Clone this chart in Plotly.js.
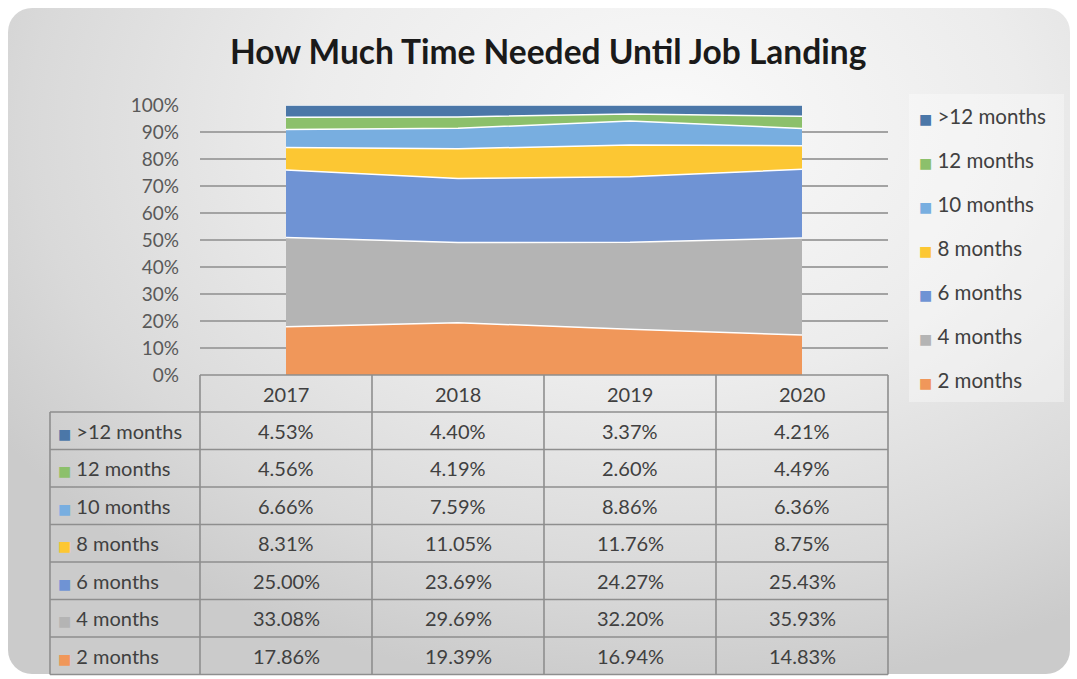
<!DOCTYPE html>
<html>
<head>
<meta charset="utf-8">
<script src="https://cdn.plot.ly/plotly-3.0.1.min.js"></script>
<style>
  html, body { margin:0; padding:0; background:#ffffff; }
  #bg { position:absolute; left:8px; top:8px; width:1062px; height:666px; border-radius:24px;
        background: radial-gradient(ellipse 75% 85% at 62% 18%, #fafafa 0%, #ececec 45%, #d9d9d9 80%, #cbcbcb 100%); }
  #chart { position:absolute; left:0; top:0; width:1077px; height:679px; }
</style>
</head>
<body>
<div id="bg"></div>
<div id="chart"></div>
<script>
// ---- data ----
const years = ['2017', '2018', '2019', '2020'];
const seriesNames = ['2 months', '4 months', '6 months', '8 months', '10 months', '12 months', '>12 months'];
const months2 = [17.86, 19.39, 16.94, 14.83];
const months4 = [33.08, 29.69, 32.20, 35.93];
const months6 = [25.00, 23.69, 24.27, 25.43];
const months8 = [8.31, 11.05, 11.76, 8.75];
const months10 = [6.66, 7.59, 8.86, 6.36];
const months12 = [4.56, 4.19, 2.60, 4.49];
const monthsOver12 = [4.53, 4.40, 3.37, 4.21];
const yTickValues = [0, 10, 20, 30, 40, 50, 60, 70, 80, 90, 100];
const yTickLabels = ['0%', '10%', '20%', '30%', '40%', '50%', '60%', '70%', '80%', '90%', '100%'];
const titleText = 'How Much Time Needed Until Job Landing';

// ---- styling ----
const seriesValues = [months2, months4, months6, months8, months10, months12, monthsOver12];
const colors = ['#f0975a', '#b4b4b4', '#6f93d4', '#fcc733', '#78aee0', '#8cc06b', '#4b77a8'];
const FONT = 'Lato, Carlito, Calibri, "Open Sans", sans-serif';
const TXT = '#404040';
const W = 1077, H = 679;
const M = {l: 200, r: 189, t: 105, b: 304};
const plotH = H - M.t - M.b;
const plotW = W - M.l - M.r;
const py = p => (H - M.b - p) / plotH;       // pixel y -> paper y
const px = p => (p - M.l) / plotW;           // pixel x -> paper x
const esc = s => s.replace(/&/g, '&amp;').replace(/</g, '&lt;').replace(/>/g, '&gt;');
const swatch = c => '<span style="color:' + c + ';font-family:DejaVu Sans;font-size:14px">■</span> ';

const traces = seriesNames.map((name, i) => ({
  type: 'scatter',
  mode: 'lines',
  x: years,
  y: seriesValues[i],
  name: name,
  stackgroup: 'one',
  fillcolor: colors[i],
  line: {color: '#ffffff', width: 1.5},
  hoverinfo: 'x+y+name',
  showlegend: false
}));

const shapes = [];
const annotations = [];
const border = {color: '#8e8e8e', width: 1.6};

// table geometry (pixels)
const headerTop = 375, headerBottom = 412, rowH = 37.5;
const nRows = seriesNames.length;
const tableBottom = headerBottom + nRows * rowH;
const leftColX = 50;

shapes.push({type: 'line', xref: 'paper', yref: 'paper', x0: 0, x1: 1, y0: py(headerTop), y1: py(headerTop), line: border});
for (let j = 0; j <= years.length; j++) {
  const xp = j / years.length;
  shapes.push({type: 'line', xref: 'paper', yref: 'paper', x0: xp, x1: xp, y0: py(headerTop), y1: py(tableBottom), line: border});
}
shapes.push({type: 'line', xref: 'paper', yref: 'paper', x0: px(leftColX), x1: px(leftColX), y0: py(headerBottom), y1: py(tableBottom), line: border});
for (let r = 0; r <= nRows; r++) {
  const yy = headerBottom + r * rowH;
  shapes.push({type: 'line', xref: 'paper', yref: 'paper', x0: px(leftColX), x1: 1, y0: py(yy), y1: py(yy), line: border});
}
// header year labels (category index positions on the x axis)
years.forEach((yr, j) => annotations.push({
  xref: 'x', yref: 'paper', x: j, y: py((headerTop + headerBottom) / 2),
  text: yr, showarrow: false, xanchor: 'center', yanchor: 'middle',
  font: {family: FONT, size: 20, color: TXT}
}));
// rows: top row is last series
for (let r = 0; r < nRows; r++) {
  const si = nRows - 1 - r;
  const yc = py(headerBottom + r * rowH + rowH / 2);
  annotations.push({
    xref: 'paper', yref: 'paper', x: px(56), y: yc, xanchor: 'left', yanchor: 'middle', showarrow: false,
    text: swatch(colors[si]) + esc(seriesNames[si]),
    font: {family: FONT, size: 20, color: TXT}
  });
  years.forEach((yr, j) => annotations.push({
    xref: 'x', yref: 'paper', x: j, y: yc, xanchor: 'center', yanchor: 'middle', showarrow: false,
    text: seriesValues[si][j].toFixed(2) + '%',
    font: {family: FONT, size: 20, color: TXT}
  }));
}

// legend box
shapes.push({type: 'rect', xref: 'paper', yref: 'paper', x0: px(909), x1: px(1064), y0: py(402), y1: py(94),
  fillcolor: 'rgba(255,255,255,0.35)', line: {width: 0}, layer: 'below'});
for (let r = 0; r < nRows; r++) {
  const si = nRows - 1 - r;
  annotations.push({
    xref: 'paper', yref: 'paper', x: px(917), y: py(116 + r * 44), xanchor: 'left', yanchor: 'middle', showarrow: false,
    text: swatch(colors[si]) + esc(seriesNames[si]),
    font: {family: FONT, size: 20.5, color: TXT}
  });
}

const layout = {
  width: W, height: H,
  margin: M,
  paper_bgcolor: 'rgba(0,0,0,0)',
  plot_bgcolor: 'rgba(0,0,0,0)',
  showlegend: false,
  title: {
    text: '<b>' + titleText + '</b>',
    x: 0.509, xanchor: 'center', y: 1 - 52 / H, yanchor: 'middle',
    font: {family: FONT, size: 33.5, color: '#1a1a1a'}
  },
  xaxis: {
    type: 'category', range: [-0.5, years.length - 0.5],
    showgrid: false, zeroline: false, showline: false, showticklabels: false, ticks: '', fixedrange: true
  },
  yaxis: {
    range: [0, 100], tickmode: 'array', tickvals: yTickValues, ticktext: yTickLabels,
    showgrid: true, gridcolor: '#a3a3a3', gridwidth: 1.5, zeroline: false, showline: false,
    ticks: '', ticklabelstandoff: 20,
    tickfont: {family: FONT, size: 19, color: '#595959'}, fixedrange: true
  },
  shapes: shapes,
  annotations: annotations
};

Plotly.newPlot('chart', traces, layout, {displayModeBar: false});
</script>
</body>
</html>
